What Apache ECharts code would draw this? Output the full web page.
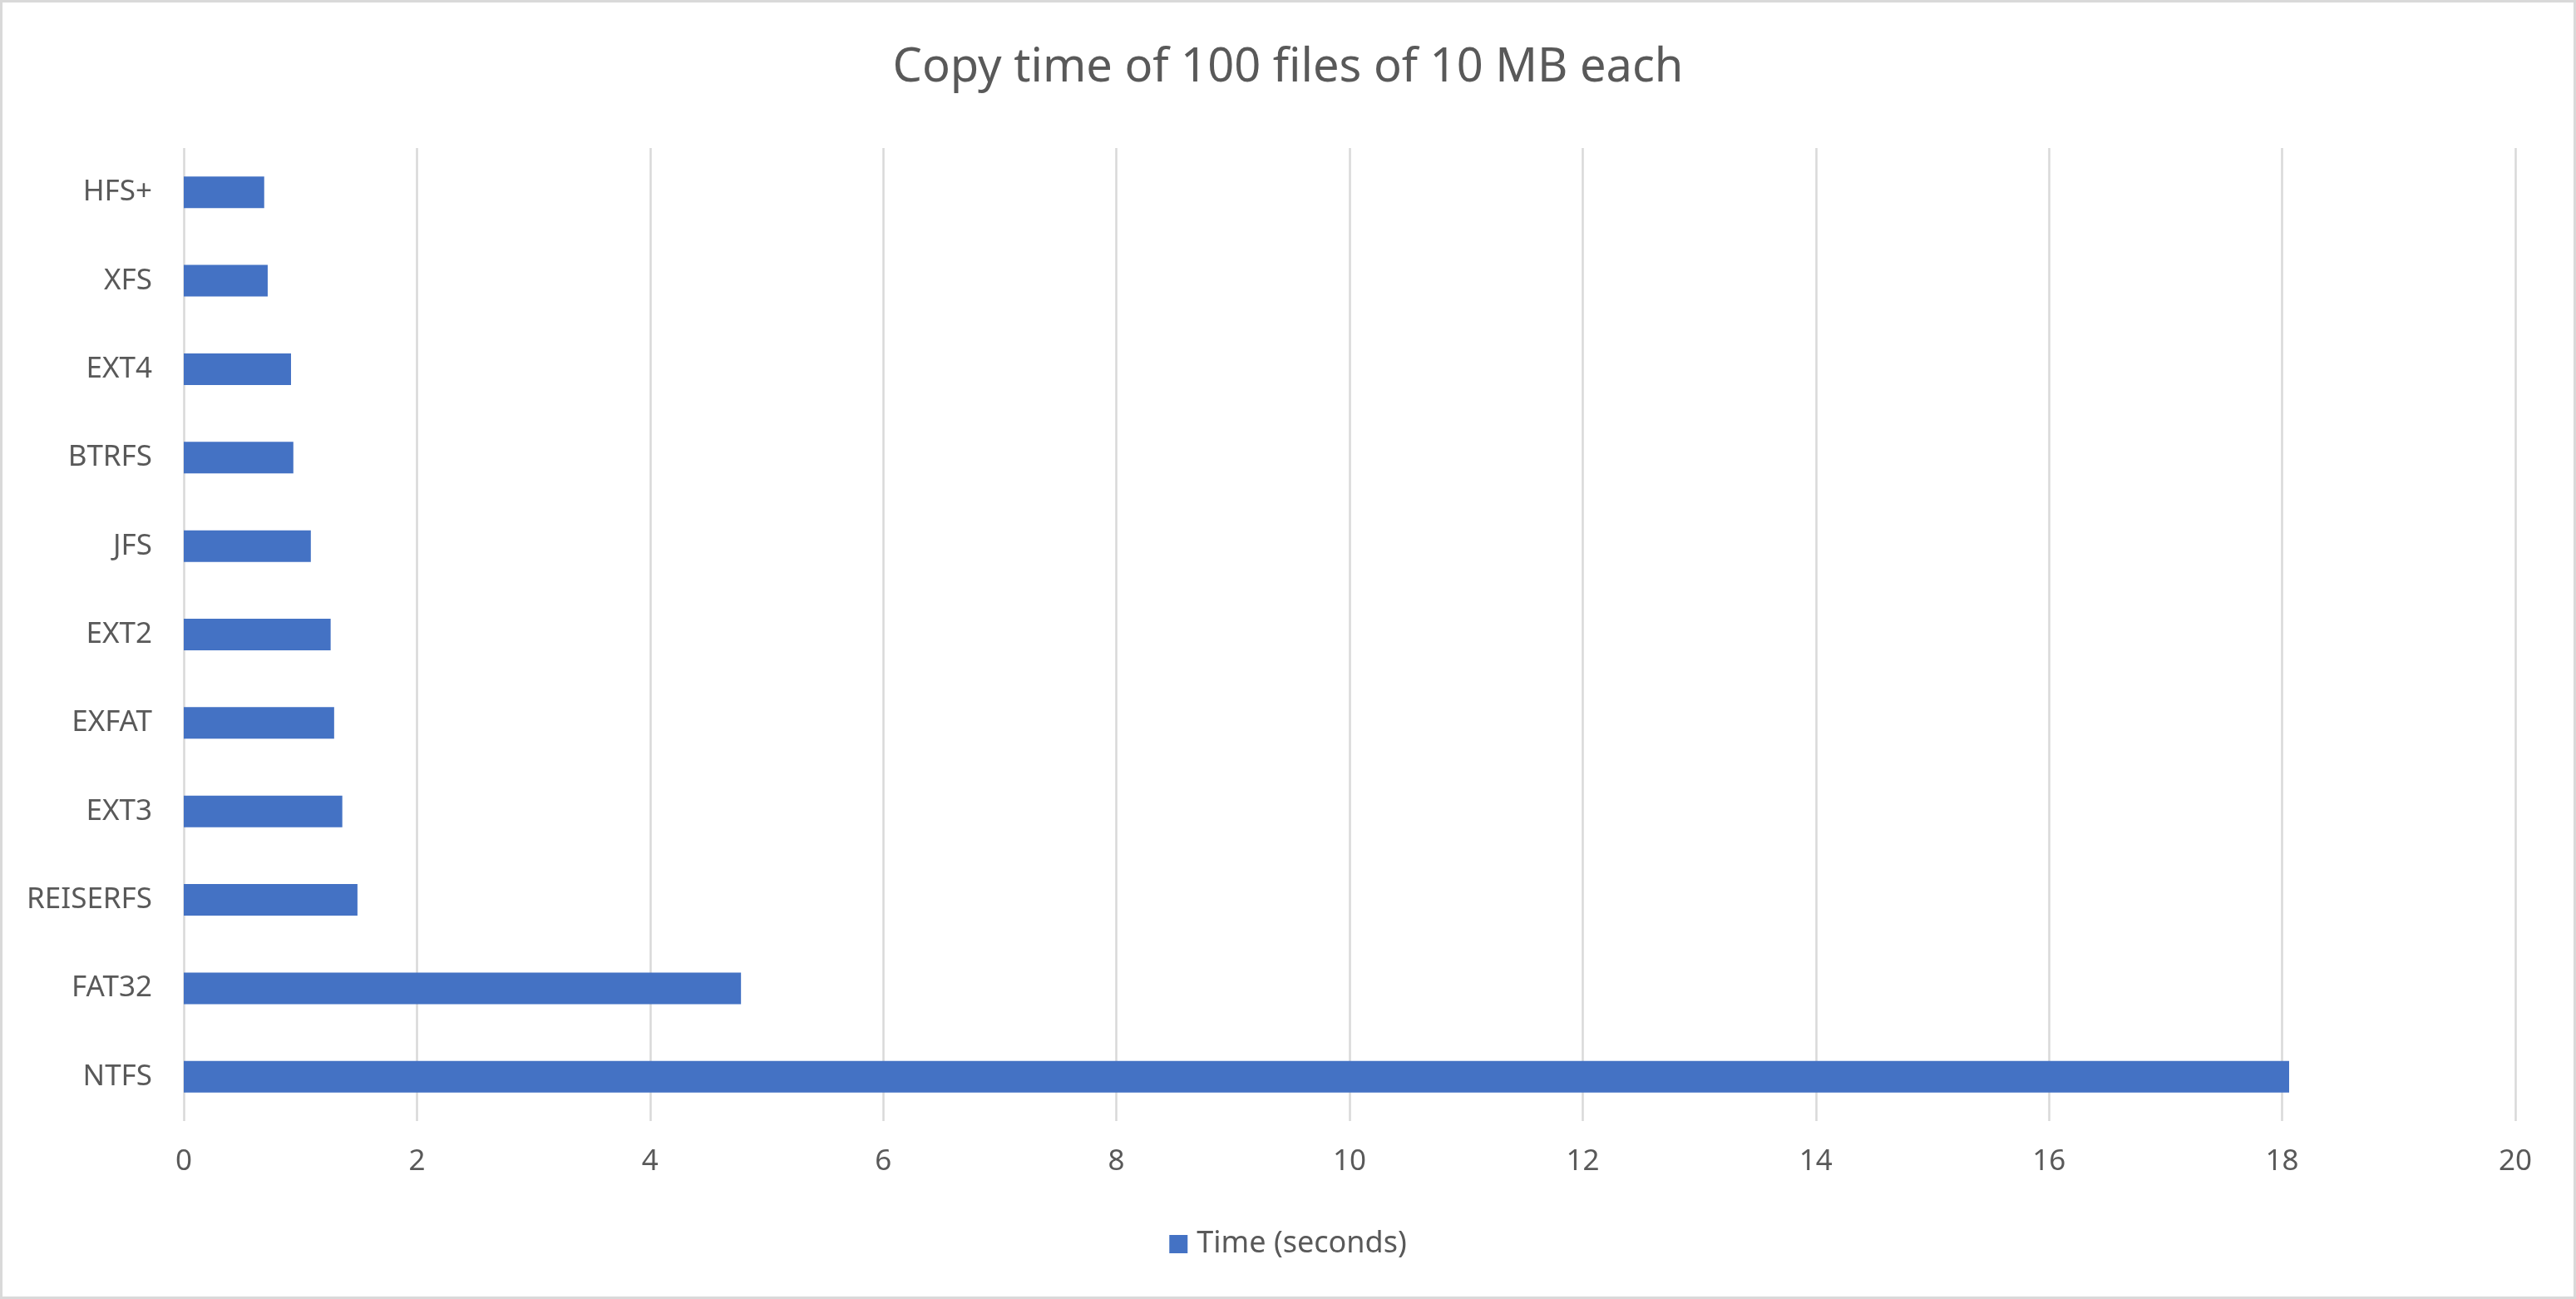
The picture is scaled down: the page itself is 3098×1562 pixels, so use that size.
<!DOCTYPE html>
<html>
<head>
<meta charset="utf-8">
<script src="https://cdn.jsdelivr.net/npm/echarts@6/dist/echarts.min.js"></script>
<style>
    html, body {
        margin: 0;
        padding: 0;
        background: #fff;
    }
    #chart {
        width: 3098px;
        height: 1562px;
        box-sizing: border-box;
        border: 3px solid #d9d9d9;
    }
</style>
</head>
<body>
<div id="chart"></div>
<script>
// categories bottom -> top (ECharts draws the first category at the bottom)
const fileSystems = ["NTFS", "FAT32", "REISERFS", "EXT3", "EXFAT", "EXT2", "JFS", "BTRFS", "EXT4", "XFS", "HFS+"];
const copySeconds = [18.06, 4.78, 1.49, 1.36, 1.29, 1.26, 1.09, 0.94, 0.92, 0.72, 0.69];
const seriesName = "Time (seconds)";
const chartTitle = "Copy time of 100 files of 10 MB each";

const textColor = "#595959";
const gridColor = "#d9d9d9";
const font = "'Noto Sans', 'Liberation Sans', sans-serif";

let myChart = echarts.init(document.getElementById("chart"));
let option = {
    animation: false,
    title: {
        text: chartTitle,
        left: "center",
        top: 46,
        textStyle: {
            color: textColor,
            fontFamily: font,
            fontSize: 56,
            fontWeight: "normal",
        },
    },
    legend: {
        data: [seriesName],
        bottom: 40,
        left: "center",
        icon: "rect",
        itemWidth: 22,
        itemHeight: 22,
        textStyle: {
            color: textColor,
            fontFamily: font,
            fontSize: 36,
            padding: [0, 0, 0, 6],
        },
    },
    grid: {
        left: 218,
        right: 70,
        top: 175,
        bottom: 211,
        containLabel: false,
    },
    xAxis: {
        type: "value",
        min: 0,
        max: 20,
        interval: 2,
        axisLine: { show: false },
        axisTick: { show: false },
        axisLabel: {
            color: textColor,
            fontFamily: font,
            fontSize: 35,
            margin: 32,
        },
        splitLine: {
            show: true,
            lineStyle: { color: gridColor, width: 2.5 },
        },
    },
    yAxis: {
        type: "category",
        data: fileSystems,
        axisLine: { show: false },
        axisTick: { show: false },
        axisLabel: {
            color: textColor,
            fontFamily: font,
            fontSize: 35,
            margin: 38,
        },
    },
    series: [
        {
            name: seriesName,
            type: "bar",
            data: copySeconds,
            barWidth: 38,
            itemStyle: {
                color: "#4472c4",
            },
        },
    ],
};
myChart.setOption(option);
</script>
</body>
</html>
